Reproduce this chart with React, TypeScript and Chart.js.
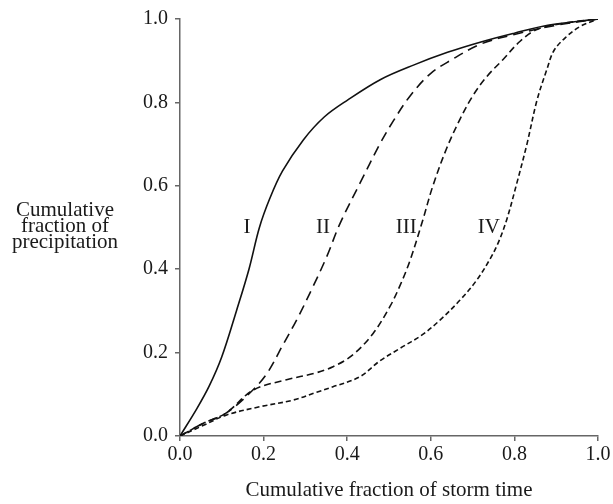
import React, { useEffect, useRef } from "react";
import { Chart, registerables } from "chart.js";

Chart.register(...registerables);

const xI = [0, 0.04, 0.07, 0.1, 0.135, 0.165, 0.19, 0.215, 0.245, 0.295, 0.345, 0.4, 0.48, 0.56, 0.64, 0.72, 0.8, 0.88, 1.0];
const yI = [0, 0.065, 0.12, 0.19, 0.3, 0.4, 0.5, 0.57, 0.635, 0.71, 0.765, 0.805, 0.855, 0.89, 0.92, 0.945, 0.966, 0.985, 1.0];

const xII = [0, 0.055, 0.11, 0.167, 0.208, 0.247, 0.28, 0.319, 0.351, 0.383, 0.43, 0.478, 0.51, 0.55, 0.598, 0.646, 0.72, 0.8, 0.9, 1.0];
const yII = [0, 0.03, 0.055, 0.103, 0.15, 0.22, 0.28, 0.36, 0.43, 0.51, 0.605, 0.7, 0.755, 0.815, 0.868, 0.9, 0.94, 0.963, 0.985, 1.0];

const xIII = [0, 0.055, 0.11, 0.175, 0.255, 0.32, 0.366, 0.414, 0.462, 0.502, 0.526, 0.55, 0.58, 0.605, 0.638, 0.67, 0.7, 0.734, 0.773, 0.813, 0.854, 0.92, 1.0];
const yIII = [0, 0.03, 0.055, 0.11, 0.135, 0.15, 0.166, 0.195, 0.246, 0.31, 0.36, 0.42, 0.515, 0.6, 0.69, 0.76, 0.815, 0.862, 0.903, 0.946, 0.975, 0.99, 1.0];

const xIV = [0, 0.055, 0.11, 0.19, 0.27, 0.327, 0.366, 0.43, 0.478, 0.526, 0.58, 0.622, 0.67, 0.71, 0.742, 0.762, 0.782, 0.806, 0.83, 0.854, 0.878, 0.895, 0.925, 0.957, 1.0];
const yIV = [0, 0.025, 0.05, 0.07, 0.086, 0.105, 0.118, 0.142, 0.18, 0.21, 0.243, 0.278, 0.326, 0.374, 0.425, 0.465, 0.52, 0.607, 0.7, 0.805, 0.88, 0.925, 0.958, 0.982, 1.0];

const curveNames = ["I", "II", "III", "IV"];
const curveLabelX = [0.16, 0.342, 0.541, 0.739];
const curveLabelY = [0.5, 0.5, 0.5, 0.5];

const tickValues = [0, 0.2, 0.4, 0.6, 0.8, 1.0];
const xTitle = "Cumulative fraction of storm time";
const yTitleLines = ["Cumulative", "fraction of", "precipitation"];

const FONT = "'Liberation Serif', 'Times New Roman', serif";

function pts(xs: number[], ys: number[]) {
  return xs.map((x, i) => ({ x, y: ys[i] }));
}

export default function App() {
  const ref = useRef<HTMLCanvasElement | null>(null);

  useEffect(() => {
    if (!ref.current) return;
    const textPlugin = {
      id: "texts",
      afterDraw(chart: any) {
        const ctx = chart.ctx;
        const xs = chart.scales.x;
        const ys = chart.scales.y;
        const ca = chart.chartArea;
        ctx.save();
        ctx.fillStyle = "#1a1a1a";
        ctx.font = `21px ${FONT}`;
        ctx.textAlign = "center";
        ctx.textBaseline = "middle";
        curveNames.forEach((n, i) => {
          ctx.fillText(n, xs.getPixelForValue(curveLabelX[i]), ys.getPixelForValue(curveLabelY[i]));
        });
        ctx.font = `21px ${FONT}`;
        ctx.fillText(xTitle, (ca.left + ca.right) / 2, 490);
        yTitleLines.forEach((l, i) => {
          ctx.fillText(l, 65, 210 + i * 16);
        });
        ctx.restore();
      },
    };

    const common = {
      type: "linear" as const,
      min: 0,
      max: 1,
      afterBuildTicks: (s: any) => {
        s.ticks = tickValues.map((v) => ({ value: v }));
      },
      border: { display: true, color: "#666", width: 1.5 },
      grid: { display: true, drawOnChartArea: false, drawTicks: true, tickLength: 5, color: "#666", lineWidth: 1.5 },
    };

    const chart = new Chart(ref.current, {
      type: "line",
      data: {
        datasets: [
          { data: pts(xI, yI), borderColor: "#111", borderWidth: 1.6, borderDash: [] },
          { data: pts(xII, yII), borderColor: "#111", borderWidth: 1.6, borderDash: [10, 6] },
          { data: pts(xIII, yIII), borderColor: "#111", borderWidth: 1.6, borderDash: [7, 4] },
          { data: pts(xIV, yIV), borderColor: "#111", borderWidth: 1.6, borderDash: [5, 3] },
        ].map((d) => ({ ...d, pointRadius: 0, fill: false, tension: 0.35 })),
      },
      options: {
        animation: false,
        responsive: false,
        events: [],
        layout: { padding: { top: 19, right: 15, left: 0, bottom: 0 } },
        plugins: { legend: { display: false }, tooltip: { enabled: false } },
        scales: {
          x: {
            ...common,
            ticks: { font: { family: FONT, size: 20 }, color: "#1a1a1a", padding: 2, maxRotation: 0, callback: (v: any) => Number(v).toFixed(1) },
            afterFit: (s: any) => { s.height = 68; },
          },
          y: {
            ...common,
            ticks: { font: { family: FONT, size: 20 }, color: "#1a1a1a", padding: 7, callback: (v: any) => Number(v).toFixed(1) },
            afterFit: (s: any) => { s.width = 180; },
          },
        },
      },
      plugins: [textPlugin],
    } as any);
    return () => chart.destroy();
  }, []);

  return (
    <div style={{ position: "fixed", left: 0, top: 0, width: 613, height: 504, background: "#fff" }}>
      <canvas ref={ref} width={613} height={504} style={{ width: 613, height: 504 }} />
    </div>
  );
}
